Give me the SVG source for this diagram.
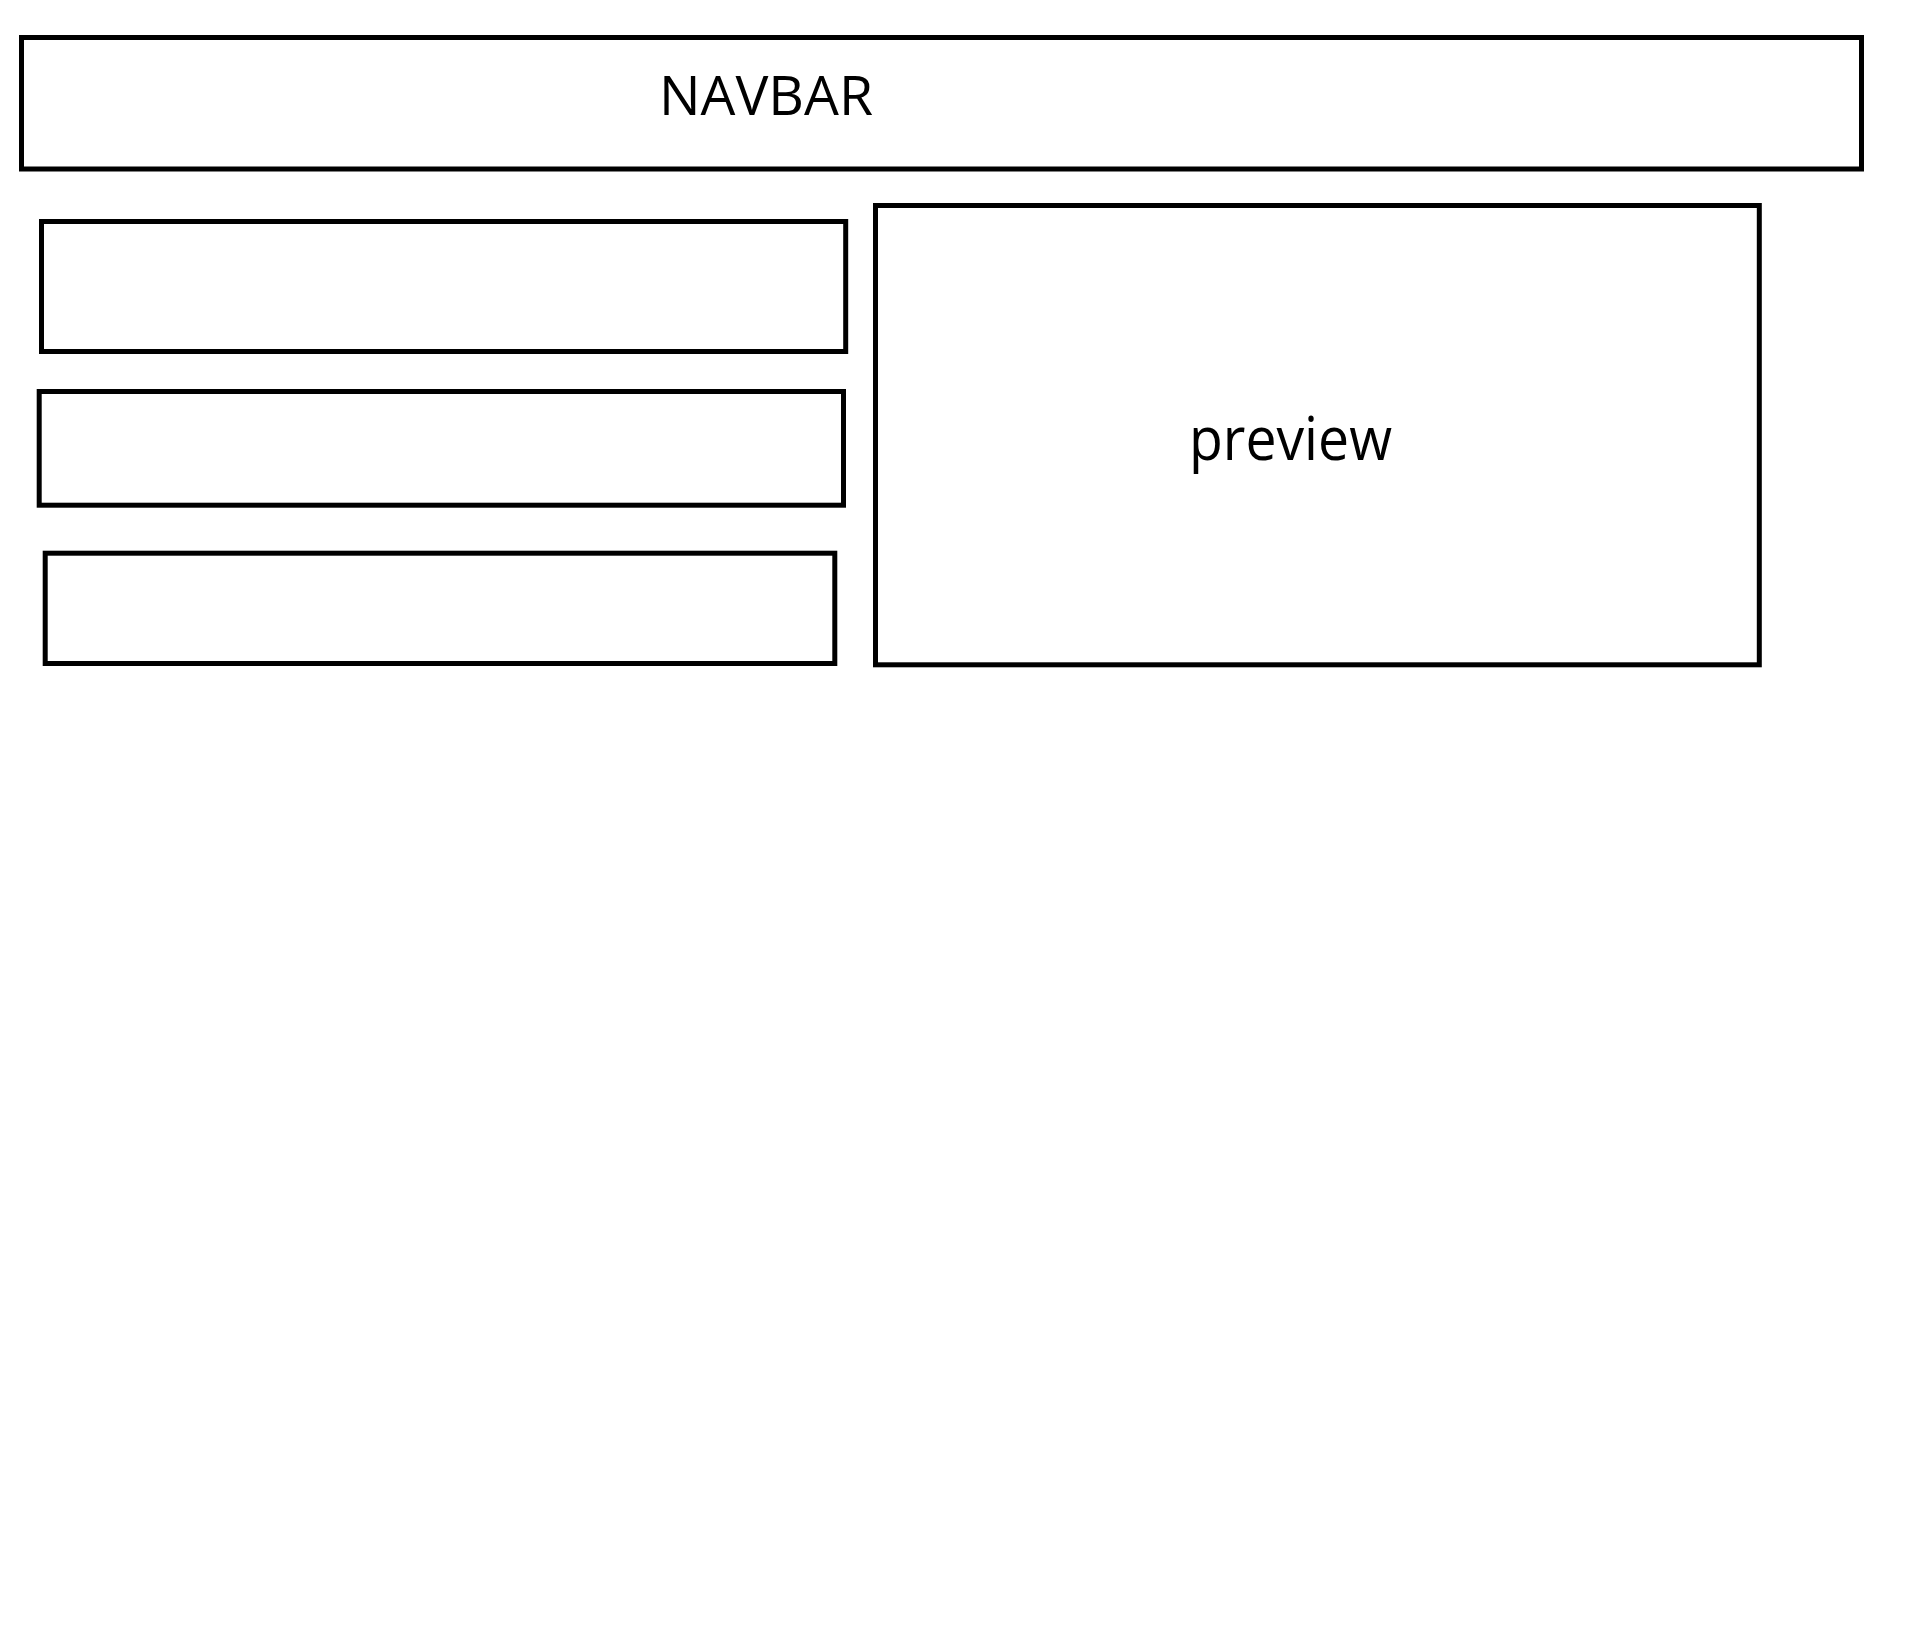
<svg xmlns="http://www.w3.org/2000/svg" width="1924" height="1632" viewBox="0 0 1924 1632">
<style>
.box{fill:#fff;stroke:#000;stroke-width:5}
.lbl{font-family:"Open Sans","Liberation Sans",sans-serif;fill:#000}
</style>
<rect width="1924" height="1632" fill="#fff"/>
<g id="navbar">
<rect class="box" x="21.5" y="37.5" width="1840" height="131.5"/>
<text class="lbl" x="659" y="115" font-size="55" textLength="214" lengthAdjust="spacingAndGlyphs">NAVBAR</text>
</g>
<g id="box1"><rect class="box" x="41.5" y="221.5" width="804.2" height="130"/></g>
<g id="box2"><rect class="box" x="39.2" y="391.5" width="804.3" height="113.7"/></g>
<g id="box3"><rect class="box" x="45.2" y="553.2" width="789.6" height="110.3"/></g>
<g id="preview">
<rect class="box" x="875.5" y="205.5" width="883.8" height="459.3"/>
<text class="lbl" x="1189" y="460" font-size="60" textLength="203" lengthAdjust="spacingAndGlyphs">preview</text>
</g>
<g id="connectors"/>
</svg>
